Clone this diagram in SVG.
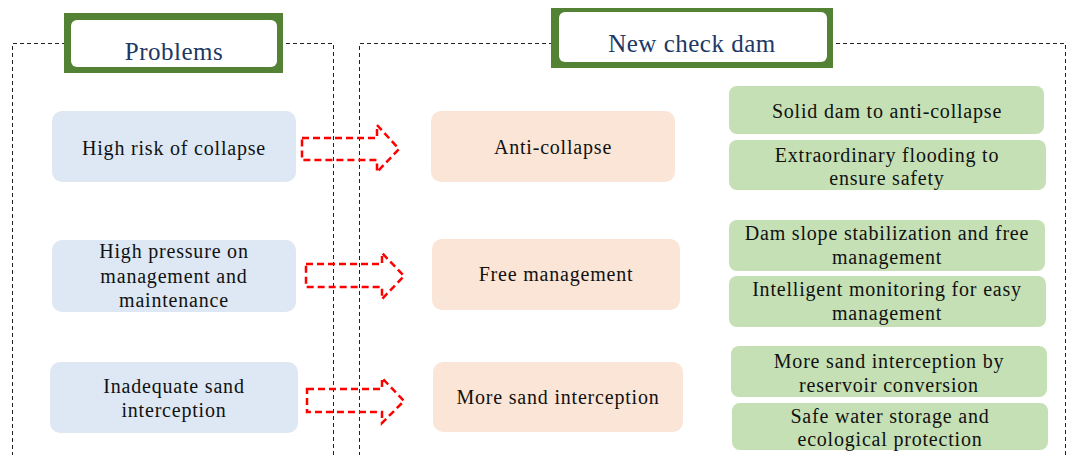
<svg xmlns="http://www.w3.org/2000/svg" width="1073" height="455" viewBox="0 0 1073 455">
<style>
text{font-family:"Liberation Serif","Times New Roman",serif;font-size:20px;fill:#111;text-anchor:middle;letter-spacing:0.8px}
.frame{fill:none;stroke:#222;stroke-width:1;stroke-dasharray:4,3}
.blue{fill:#dde8f4}
.peach{fill:#fbe5d6}
.green{fill:#c5e0b4}
.outer{fill:#548235}
.inner{fill:#fff}
.title{fill:#203864;font-size:25px;letter-spacing:0.5px}
.arrow{fill:none;stroke:#ff0000;stroke-width:2.5;stroke-dasharray:7,4}
</style>
<rect width="1073" height="455" fill="#fff"/>
<g id="frames">
<path class="frame" d="M12.5,456 V43.5 H333.5 V456"/>
<path class="frame" d="M359.5,456 V43.5 H1065.5 V456"/>
</g>
<g id="title-problems">
<rect class="outer" x="64" y="13" width="219" height="60"/>
<rect class="inner" x="71" y="20" width="206" height="47" rx="6"/>
<text class="title" x="174" y="60">Problems</text>
</g>
<g id="title-newdam">
<rect class="outer" x="551" y="8" width="282" height="60"/>
<rect class="inner" x="559" y="12" width="268" height="50" rx="6"/>
<text class="title" x="692" y="52">New check dam</text>
</g>
<g id="p1"><rect class="blue" x="52" y="111" width="244" height="71" rx="10"/><text x="174" y="155">High risk of collapse</text></g>
<g id="p2"><rect class="blue" x="52" y="240" width="244" height="72" rx="10"/><text x="174" y="258">High pressure on</text><text x="174" y="283">management and</text><text x="174" y="307">maintenance</text></g>
<g id="p3"><rect class="blue" x="50" y="362" width="248" height="71" rx="10"/><text x="174" y="393">Inadequate sand</text><text x="174" y="417">interception</text></g>
<g id="s1"><rect class="peach" x="431" y="111" width="244" height="71" rx="10"/><text x="553" y="154">Anti-collapse</text></g>
<g id="s2"><rect class="peach" x="432" y="239" width="248" height="71" rx="10"/><text x="556" y="281">Free management</text></g>
<g id="s3"><rect class="peach" x="433" y="362" width="250" height="70" rx="10"/><text x="558" y="404">More sand interception</text></g>
<g id="g1"><rect class="green" x="729" y="86" width="315" height="48" rx="8"/><text x="887" y="118">Solid dam to anti-collapse</text></g>
<g id="g2"><rect class="green" x="729" y="140" width="317" height="50" rx="8"/><text x="887" y="162">Extraordinary flooding to</text><text x="887" y="185">ensure safety</text></g>
<g id="g3"><rect class="green" x="729" y="220" width="316" height="51" rx="8"/><text x="887" y="240">Dam slope stabilization and free</text><text x="887" y="264">management</text></g>
<g id="g4"><rect class="green" x="729" y="276" width="317" height="51" rx="8"/><text x="887" y="296">Intelligent monitoring for easy</text><text x="887" y="320">management</text></g>
<g id="g5"><rect class="green" x="731" y="346" width="316" height="51" rx="8"/><text x="889" y="368">More sand interception by</text><text x="889" y="392">reservoir conversion</text></g>
<g id="g6"><rect class="green" x="732" y="403" width="316" height="47" rx="8"/><text x="890" y="423">Safe water storage and</text><text x="890" y="446">ecological protection</text></g>
<g id="connectors">
<path class="arrow" d="M302,138 H377 V125 L399,149 L377,172 V160 H302 Z"/>
<path class="arrow" d="M306,264 H382 V253 L404,276 L382,299 V287 H306 Z"/>
<path class="arrow" d="M307,389 H382 V378 L404,401 L382,423 V412 H307 Z"/>
</g>
</svg>
